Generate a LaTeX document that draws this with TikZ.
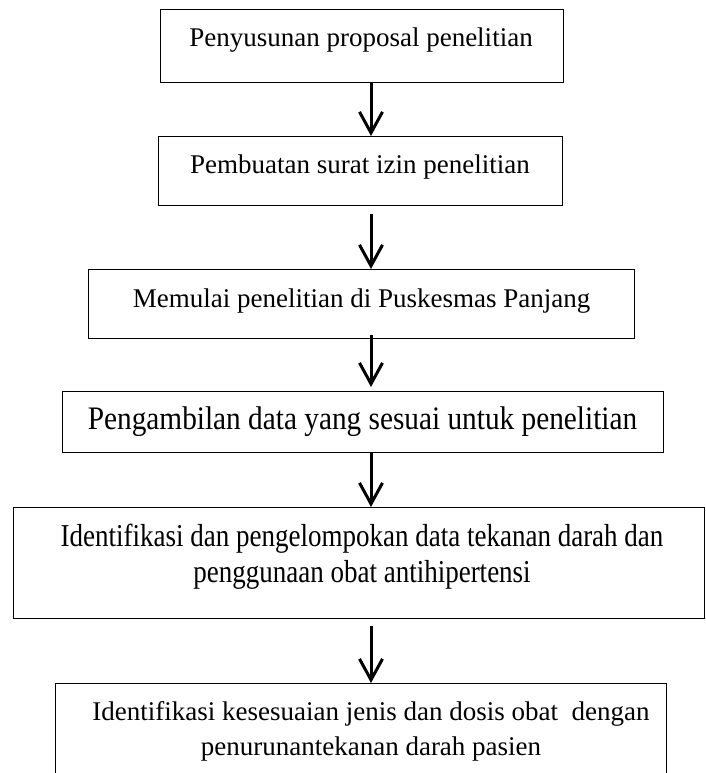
\documentclass[tikz,border=0pt]{standalone}
\usepackage{fontspec}
\setmainfont{Liberation Serif}
\usetikzlibrary{arrows.meta}
\newcommand{\tallr}[2]{\scalebox{1}[#1]{#2}}
\begin{document}
\begin{tikzpicture}[x=1pt,y=-1pt,
  box/.style={draw=black, line width=1.3pt, inner sep=0pt, anchor=north west},
  txt/.style={anchor=base, inner sep=0pt, font=\fontsize{27}{35}\selectfont, align=center},
  bigtxt/.style={anchor=base, inner sep=0pt, font=\fontsize{29.3}{35}\selectfont},
  arr/.style={line width=3pt, -{Straight Barb[length=21pt, width=23pt, line width=3pt]}}]
\useasboundingbox (0,0) rectangle (705,773);
% boxes
\node[box, minimum width=403pt, minimum height=73pt] (b1) at (160,9) {};
\node[box, minimum width=404pt, minimum height=69pt] (b2) at (158,136) {};
\node[box, minimum width=546pt, minimum height=69pt] (b3) at (88,269) {};
\node[box, minimum width=601pt, minimum height=61pt] (b4) at (62,391) {};
\node[box, minimum width=691pt, minimum height=111pt] (b5) at (13,507) {};
\node[box, minimum width=611pt, minimum height=110pt] (b6) at (55,683) {};
% texts
\node[txt] (t1) at (361,47) {Penyusunan proposal penelitian};
\node[txt] (t2) at (360,173) {Pembuatan surat izin penelitian};
\node[txt] (t3) at (361.5,307) {Memulai penelitian di Puskesmas Panjang};
\node[bigtxt] (t4) at (362.5,429) {\tallr{1.12}{Pengambilan data yang sesuai untuk penelitian}};
\node[txt] (t5a) at (362,546) {\tallr{1.18}{Identifikasi dan pengelompokan data tekanan darah dan}};
\node[txt] (t5b) at (362,582) {\tallr{1.18}{penggunaan obat antihipertensi}};
\node[txt] (t6a) at (371,720) {Identifikasi kesesuaian jenis dan dosis obat\ \ dengan};
\node[txt] (t6b) at (371,755) {penurunantekanan darah pasien};
% arrows
\coordinate (ax) at (371,0);
\draw[arr] (b1.south -| ax) -- (b2.north -| ax);
\draw[arr, shorten <=8pt] (b2.south -| ax) -- (b3.north -| ax);
\draw[arr, shorten <=-4pt, shorten >=4pt] (b3.south -| ax) -- (b4.north -| ax);
\draw[arr] (b4.south -| ax) -- (b5.north -| ax);
\draw[arr, shorten <=7pt] (b5.south -| ax) -- (b6.north -| ax);
\end{tikzpicture}
\end{document}
